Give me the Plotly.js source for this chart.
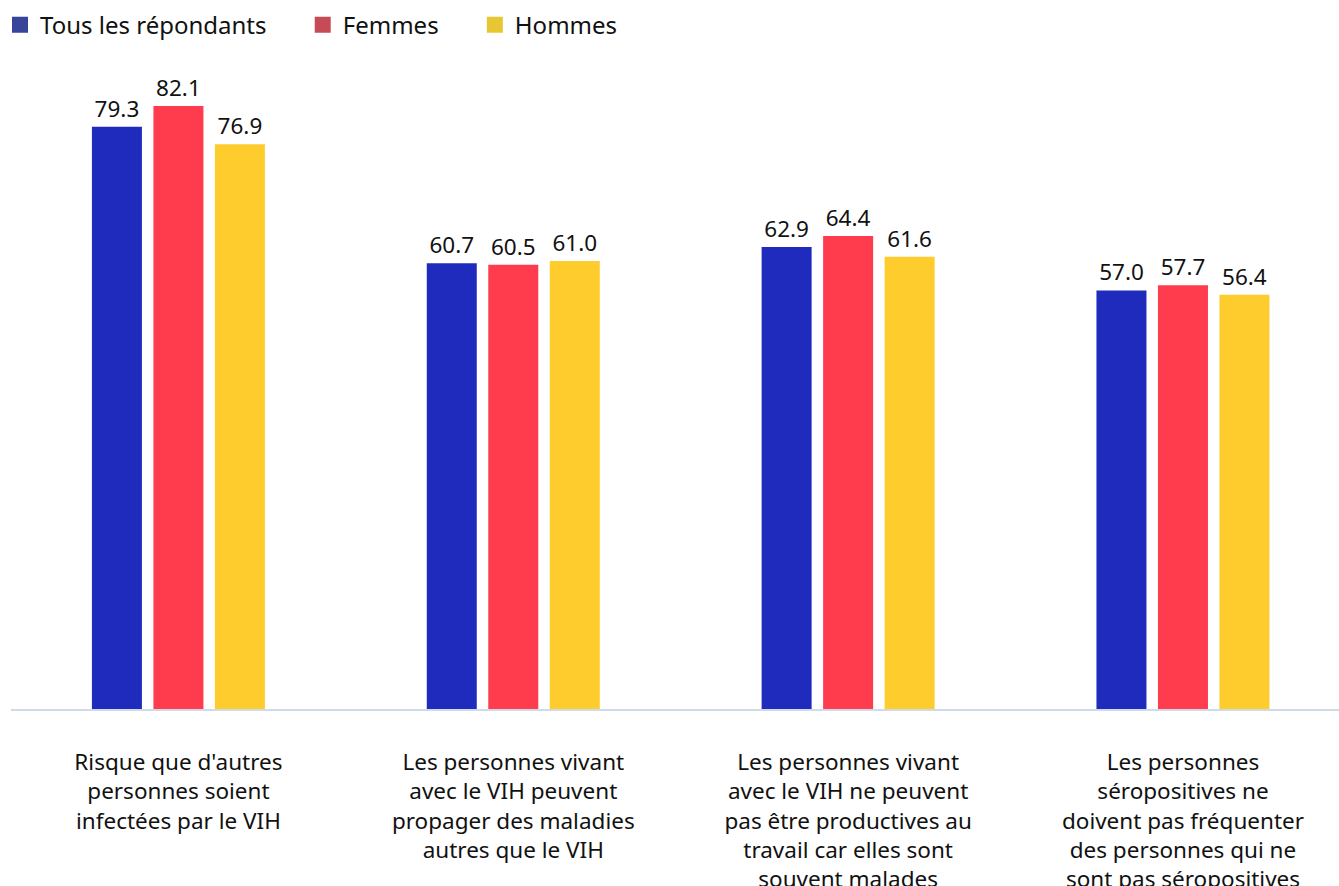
<!DOCTYPE html>
<html>
<head>
<meta charset="utf-8">
<script src="https://cdn.plot.ly/plotly-3.0.1.min.js"></script>
<style>html,body{margin:0;padding:0;background:#fff;}#chart{width:1339px;height:886px;}</style>
</head>
<body>
<div id="chart"></div>
<script>
const categories = [
  "Risque que d'autres<br>personnes soient<br>infectées par le VIH",
  "Les personnes vivant<br>avec le VIH peuvent<br>propager des maladies<br>autres que le VIH",
  "Les personnes vivant<br>avec le VIH ne peuvent<br>pas être productives au<br>travail car elles sont<br>souvent malades",
  "Les personnes<br>séropositives ne<br>doivent pas fréquenter<br>des personnes qui ne<br>sont pas séropositives"
];
const seriesNames = ["Tous les répondants", "Femmes", "Hommes"];
const tous = [79.3, 60.7, 62.9, 57.0];
const femmes = [82.1, 60.5, 64.4, 57.7];
const hommes = [76.9, 61.0, 61.6, 56.4];

const barColors = ["#1f2bbd", "#ff3b4e", "#ffcc2e"];
const legendColors = ["#36459a", "#c74a57", "#e6c733"];
const valueFont = {family: "Noto Sans, Open Sans, sans-serif", size: 22.5, color: "#111111"};

const values = [tous, femmes, hommes];
const traces = values.map((v, i) => ({
  type: "bar",
  x: categories,
  y: v,
  name: seriesNames[i],
  showlegend: false,
  marker: {color: barColors[i]},
  text: v.map(n => n.toFixed(1)),
  textposition: "outside",
  textfont: valueFont,
  cliponaxis: false,
  hoverinfo: "none"
}));
const pad = "\u00a0\u00a0\u00a0\u00a0\u00a0";
const legendTraces = seriesNames.map((n, i) => ({
  type: "scatter",
  mode: "markers",
  x: [categories[0]],
  y: [null],
  name: n + (i < 2 ? pad : ""),
  showlegend: true,
  marker: {color: legendColors[i], symbol: "square", size: 16},
  hoverinfo: "none"
}));

const layout = {
  width: 1339, height: 886,
  margin: {l: 10.5, r: 0, t: 60, b: 177},
  paper_bgcolor: "#ffffff",
  plot_bgcolor: "#ffffff",
  barmode: "group",
  bargap: 0.449,
  bargroupgap: 0.187,
  showlegend: true,
  legend: {
    orientation: "h", x: 0, xanchor: "left", y: 0.997, yanchor: "top",
    yref: "container", xref: "container",
    font: {family: "Noto Sans, Open Sans, sans-serif", size: 24, color: "#111111"},
    itemclick: false, itemdoubleclick: false, traceorder: "normal"
  },
  xaxis: {
    type: "category",
    range: [-0.5, 3.466],
    showline: true, linecolor: "#cfdbe6", linewidth: 2,
    showgrid: false, zeroline: false,
    ticks: "", ticklabelstandoff: 32,
    tickfont: {family: "Noto Sans, Open Sans, sans-serif", size: 22.5, color: "#111111"},
    fixedrange: true
  },
  yaxis: {
    range: [0, 88.38],
    showgrid: false, zeroline: false, showline: false,
    showticklabels: false, ticks: "",
    fixedrange: true
  }
};

Plotly.newPlot("chart", traces.concat(legendTraces), layout, {displayModeBar: false, staticPlot: true});
</script>
</body>
</html>
